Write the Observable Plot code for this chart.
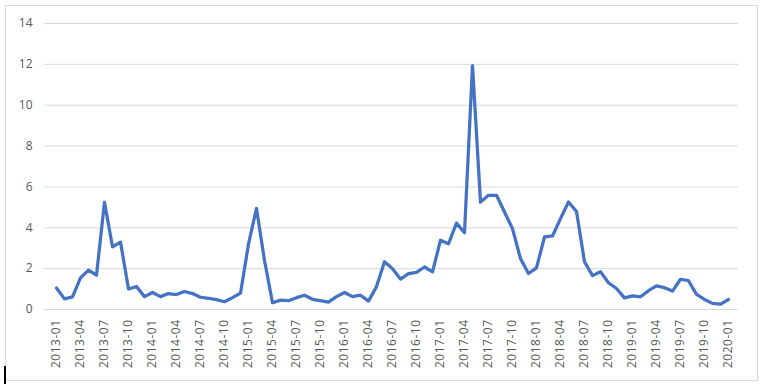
<!DOCTYPE html>
<html>
<head>
<meta charset="utf-8">
<script src="https://cdn.jsdelivr.net/npm/d3@7"></script>
<script src="https://cdn.jsdelivr.net/npm/@observablehq/plot@0.6"></script>
<style>
  html, body { margin: 0; padding: 0; background: #fff; }
  #wrap { position: relative; width: 765px; height: 391px; }
  #border { position: absolute; left: 5px; top: 5px; width: 751px; height: 374px; border: 1px solid #d9d9d9; pointer-events: none; }
  #cursor { position: absolute; left: 4px; top: 366px; width: 2px; height: 18px; background: #000; }
  g[aria-label="x-axis tick label"] text { letter-spacing: 0.5px; }
</style>
</head>
<body>
<div id="wrap"><div id="border"></div><div id="cursor"></div></div>
<script>
// Categories: monthly, 2013-01 .. 2020-01
const months = [];
for (let y = 2013; y <= 2020; y++) {
  for (let m = 1; m <= 12; m++) {
    if (y === 2020 && m > 1) break;
    months.push(`${y}-${String(m).padStart(2, "0")}`);
  }
}
const values = [
  1.05, 0.52, 0.62, 1.55, 1.93, 1.68, 5.25, 3.07, 3.30, 1.00, 1.12, 0.63,
  0.83, 0.63, 0.78, 0.73, 0.88, 0.78, 0.60, 0.55, 0.48, 0.38, 0.58, 0.80,
  3.20, 4.95, 2.40, 0.33, 0.46, 0.43, 0.58, 0.70, 0.50, 0.43, 0.36, 0.63,
  0.83, 0.63, 0.70, 0.41, 1.12, 2.34, 2.00, 1.49, 1.76, 1.82, 2.08, 1.84,
  3.39, 3.22, 4.23, 3.76, 11.94, 5.26, 5.59, 5.59, 4.77, 3.96, 2.49, 1.76,
  2.04, 3.55, 3.60, 4.45, 5.26, 4.80, 2.34, 1.66, 1.85, 1.31, 1.03, 0.57,
  0.67, 0.62, 0.92, 1.16, 1.07, 0.90, 1.48, 1.41, 0.74, 0.49, 0.30, 0.26,
  0.49
];
const xTickLabels = months.filter((d, i) => i % 3 === 0);
const yTicks = [0, 2, 4, 6, 8, 10, 12, 14];

const data = months.map((m, i) => ({month: m, value: values[i]}));

const chart = Plot.plot({
  width: 765,
  height: 391,
  marginLeft: 46,
  marginRight: 27,
  marginTop: 23,
  marginBottom: 82,
  style: {fontFamily: "'Open Sans', sans-serif", fontSize: "12px", color: "#595959", background: "transparent"},
  x: {type: "point", domain: months, padding: 0.5},
  y: {domain: [0, 14]},
  marks: [
    Plot.ruleY(yTicks, {stroke: "#d9d9d9", strokeWidth: 1, insetLeft: -2}),
    Plot.axisY({ticks: yTicks, tickSize: 0, tickPadding: 14, label: null}),
    Plot.axisX({ticks: xTickLabels, tickSize: 0, tickPadding: 10, tickRotate: -90, label: null}),
    Plot.line(data, {x: "month", y: "value", stroke: "#4472C4", strokeWidth: 3.25, strokeLinejoin: "round", strokeLinecap: "round"})
  ]
});
chart.style.position = "absolute";
chart.style.left = "0";
chart.style.top = "0";
document.getElementById("wrap").prepend(chart);
</script>
</body>
</html>
